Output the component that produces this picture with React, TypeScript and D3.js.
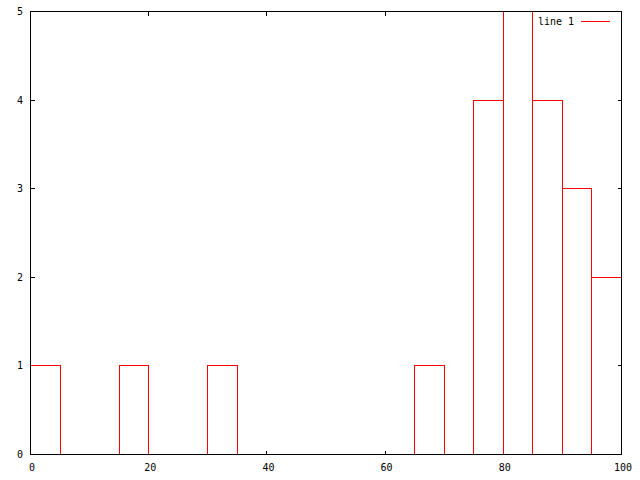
import * as d3 from "d3";

// histogram bins (left edge) and counts
const binStarts = [0, 15, 30, 65, 75, 80, 85, 90, 95];
const counts = [1, 1, 1, 1, 4, 5, 4, 3, 2];
const binWidth = 5;
const xTicks = [0, 20, 40, 60, 80, 100];
const yTicks = [0, 1, 2, 3, 4, 5];
const seriesName = "line 1";

const W = 640;
const H = 480;
const font = "'DejaVu Sans Mono', monospace";

export default function App() {
  const x = d3.scaleLinear().domain([0, 100]).range([30, 621]);
  const y = d3.scaleLinear().domain([0, 5]).range([454, 11]);
  const px = (v: number) => Math.round(x(v)) + 0.5;
  const py = (v: number) => Math.round(y(v)) + 0.5;
  const tick = 4;

  // outline of each box as a path
  const boxPath = (s: number, c: number) => {
    const p = d3.path();
    p.moveTo(px(s), py(0));
    p.lineTo(px(s), py(c));
    p.lineTo(px(s + binWidth), py(c));
    p.lineTo(px(s + binWidth), py(0));
    return p.toString();
  };

  return (
    <svg
      width={W}
      height={H}
      style={{ position: "absolute", left: 0, top: 0, background: "#fff" }}
      shapeRendering="crispEdges"
    >
      <rect width={W} height={H} fill="#fff" />

      {/* ticks */}
      {xTicks.map((t) => (
        <g key={"x" + t}>
          <line x1={px(t)} x2={px(t)} y1={py(0)} y2={py(0) - tick} stroke="#000" />
          <line x1={px(t)} x2={px(t)} y1={py(5)} y2={py(5) + tick} stroke="#000" />
          <text
            x={x(t) + 2}
            y={471}
            fontFamily={font}
            fontSize={10}
            textAnchor="middle"
            fill="#000"
          >
            {t}
          </text>
        </g>
      ))}
      {yTicks.map((t) => (
        <g key={"y" + t}>
          <line x1={px(0)} x2={px(0) + tick} y1={py(t)} y2={py(t)} stroke="#000" />
          <line x1={px(100)} x2={px(100) - tick} y1={py(t)} y2={py(t)} stroke="#000" />
          <text
            x={23}
            y={y(t) + 4}
            fontFamily={font}
            fontSize={10}
            textAnchor="end"
            fill="#000"
          >
            {t}
          </text>
        </g>
      ))}

      {/* boxes */}
      {binStarts.map((s, i) => (
        <path key={s} d={boxPath(s, counts[i])} fill="none" stroke="#ff0000" />
      ))}

      {/* border */}
      <rect
        x={px(0)}
        y={py(5)}
        width={px(100) - px(0)}
        height={py(0) - py(5)}
        fill="none"
        stroke="#000"
      />

      {/* legend */}
      <text x={574} y={25} fontFamily={font} fontSize={10} textAnchor="end" fill="#000">
        {seriesName}
      </text>
      <line x1={581} x2={610} y1={21.5} y2={21.5} stroke="#ff0000" />
    </svg>
  );
}
